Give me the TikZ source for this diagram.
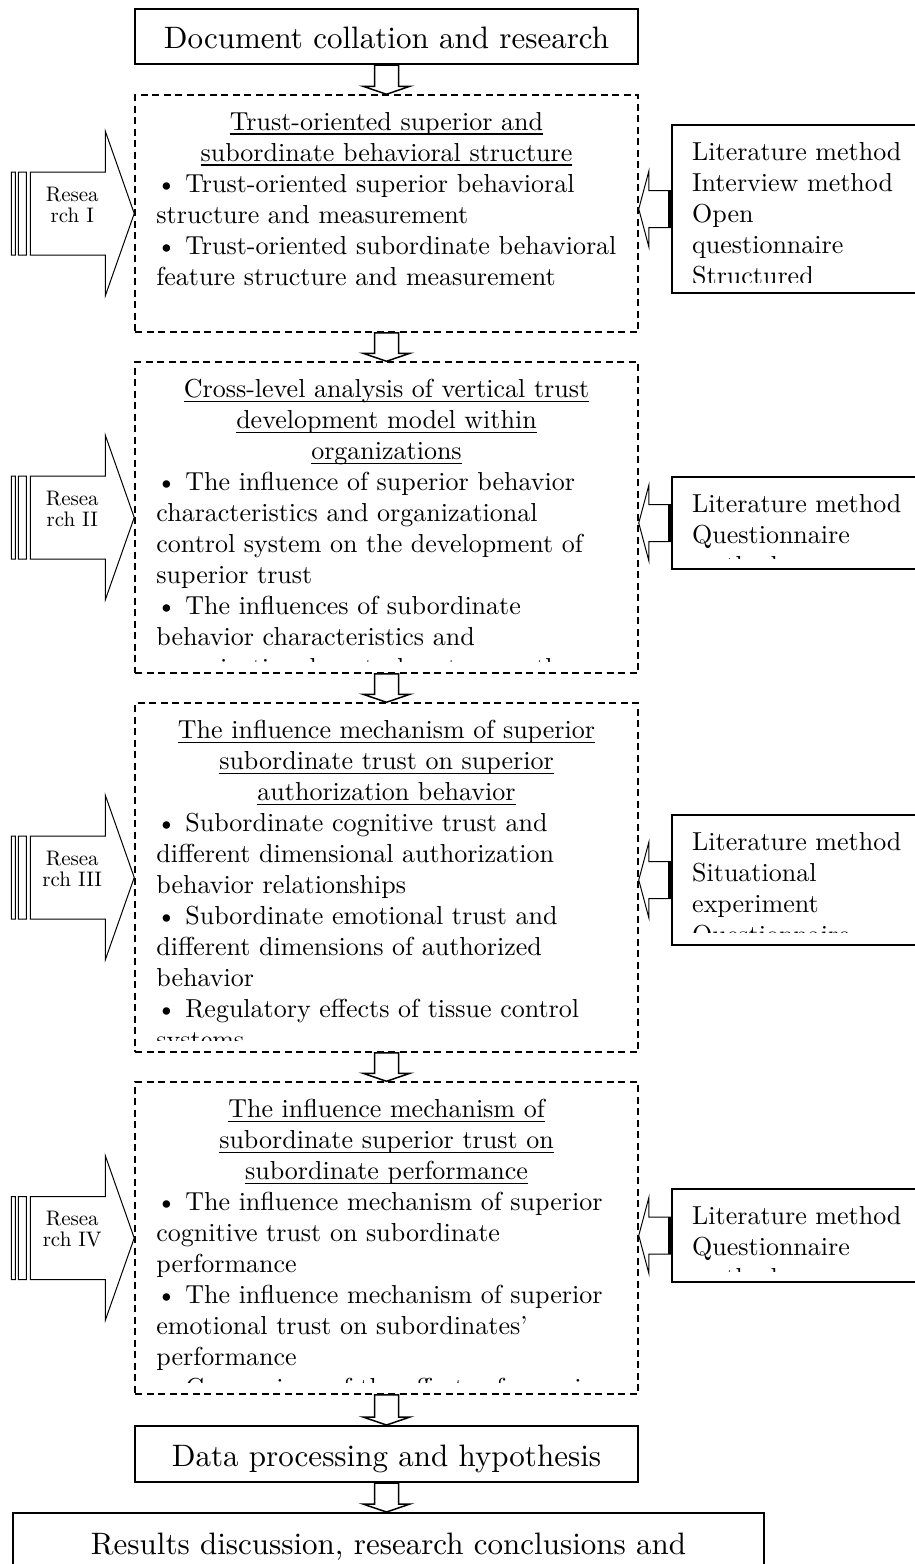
\documentclass[tikz,border=0pt]{standalone}
\usepackage{fontspec}
\setmainfont{lmroman10-regular.otf}
\usetikzlibrary{calc}

\newcommand{\bodyfont}{\fontsize{26}{31}\selectfont}
\newcommand{\bigfont}{\fontsize{31}{37}\selectfont}
\newcommand{\smallfont}{\fontsize{21}{21}\selectfont}
\newsavebox{\linebox}
\newcommand{\uln}[1]{\sbox{\linebox}{#1}\rlap{\rule[-4.5pt]{\wd\linebox}{1.5pt}}\usebox{\linebox}}

\tikzset{
  solidbox/.style={draw, line width=2pt, inner sep=0pt, font=\bigfont, text height=24pt, text depth=0pt},
  studybox/.style={draw, line width=1.5pt, dash pattern=on 7pt off 4.5pt, minimum width=503pt},
  methodbox/.style={draw, line width=2pt, minimum width=260pt},
  headtext/.style={inner sep=0pt, align=center, font=\bodyfont},
  bodytext/.style={inner sep=0pt, align=left, font=\bodyfont},
  restext/.style={inner sep=0pt, align=center, font=\smallfont},
  blockline/.style={line width=1pt},
  flowline/.style={line width=1.5pt, fill=white},
}

\begin{document}
\begin{tikzpicture}[x=1pt, y=-1pt]
\useasboundingbox (0,0) rectangle (915,1564);
\clip (0,0) rectangle (915,1564);

% main column
\node[solidbox, minimum width=503pt, minimum height=55pt] (doc) at (386.5,36.5) {Document collation and research};
\node[studybox, minimum height=237pt] (s1) at (386.5,213.5) {};
\node[studybox, minimum height=311pt] (s2) at (386.5,517.5) {};
\node[studybox, minimum height=349pt] (s3) at (386.5,877.5) {};
\node[studybox, minimum height=312pt] (s4) at (386.5,1238) {};
\node[solidbox, minimum width=503pt, minimum height=56pt] (data) at (386.5,1454) {Data processing and hypothesis};
\node[solidbox, anchor=north, minimum width=751pt, inner ysep=17pt, text depth=60pt] (res) at (388.5,1512) {Results discussion, research conclusions and};

% method boxes
\node[methodbox, minimum height=168pt] (m1) at (802,209) {};
\node[methodbox, minimum height=92pt] (m2) at (802,523) {};
\node[methodbox, minimum height=130pt] (m3) at (802,880) {};
\node[methodbox, minimum height=93pt] (m4) at (802,1235.5) {};

% study texts
\node[headtext, anchor=north] (s1h) at ([yshift=-18pt]s1.north) {\uln{Trust-oriented superior and}\\\uln{subordinate behavioral structure}};
\node[bodytext, anchor=north west] (s1b) at ([xshift=22pt,yshift=-80pt]s1.north west) {\textbullet\ Trust-oriented superior behavioral\\structure and measurement\\\textbullet\ Trust-oriented subordinate behavioral\\feature structure and measurement};

\begin{scope}
\clip (s2.north west) rectangle ([yshift=12pt]s2.south east);
\node[headtext, anchor=north] (s2h) at ([yshift=-18pt]s2.north) {\uln{Cross-level analysis of vertical trust}\\\uln{development model within}\\\uln{organizations}};
\node[bodytext, anchor=north west] (s2b) at ([xshift=22pt,yshift=-111pt]s2.north west) {\textbullet\ The influence of superior behavior\\characteristics and organizational\\control system on the development of\\superior trust\\\textbullet\ The influences of subordinate\\behavior characteristics and\\organizational control system on the};
\end{scope}

\begin{scope}
\clip (s3.north west) rectangle ([yshift=12pt]s3.south east);
\node[headtext, anchor=north] (s3h) at ([yshift=-18pt]s3.north) {\uln{The influence mechanism of superior}\\\uln{subordinate trust on superior}\\\uln{authorization behavior}};
\node[bodytext, anchor=north west] (s3b) at ([xshift=22pt,yshift=-111pt]s3.north west) {\textbullet\ Subordinate cognitive trust and\\different dimensional authorization\\behavior relationships\\\textbullet\ Subordinate emotional trust and\\different dimensions of authorized\\behavior\\\textbullet\ Regulatory effects of tissue control\\systems};
\end{scope}

\begin{scope}
\clip (s4.north west) rectangle ([yshift=12pt]s4.south east);
\node[headtext, anchor=north] (s4h) at ([yshift=-18pt]s4.north) {\uln{The influence mechanism of}\\\uln{subordinate superior trust on}\\\uln{subordinate performance}};
\node[bodytext, anchor=north west] (s4b) at ([xshift=22pt,yshift=-111pt]s4.north west) {\textbullet\ The influence mechanism of superior\\cognitive trust on subordinate\\performance\\\textbullet\ The influence mechanism of superior\\emotional trust on subordinates'\\performance\\\textbullet\ Comparison of the effects of superior};
\end{scope}

% method texts
\begin{scope}
\clip (m1.north west) rectangle ([yshift=12pt]m1.south east);
\node[bodytext, anchor=north west] (m1t) at ([xshift=21pt,yshift=-18pt]m1.north west) {Literature method\\Interview method\\Open\\questionnaire\\Structured};
\end{scope}
\begin{scope}
\clip (m2.north west) rectangle ([yshift=12pt]m2.south east);
\node[bodytext, anchor=north west] (m2t) at ([xshift=21pt,yshift=-18pt]m2.north west) {Literature method\\Questionnaire\\method};
\end{scope}
\begin{scope}
\clip (m3.north west) rectangle ([yshift=14pt]m3.south east);
\node[bodytext, anchor=north west] (m3t) at ([xshift=21pt,yshift=-18pt]m3.north west) {Literature method\\Situational\\experiment\\Questionnaire};
\end{scope}
\begin{scope}
\clip (m4.north west) rectangle ([yshift=12pt]m4.south east);
\node[bodytext, anchor=north west] (m4t) at ([xshift=21pt,yshift=-18pt]m4.north west) {Literature method\\Questionnaire\\method};
\end{scope}

% down arrows
\foreach \a/\b in {doc/s1, s1/s2, s2/s3, s3/s4, s4/data, data/res}{
  \draw[flowline] let \p1=(\a.south), \p2=(\b.north) in
    (\x1-12pt,\y1) -- (\x1-12pt,\y2+8pt) -- (\x1-23.5pt,\y2+8pt) -- (\x1,\y2)
    -- (\x1+23.5pt,\y2+8pt) -- (\x1+12pt,\y2+8pt) -- (\x1+12pt,\y1) -- cycle;
}

% research arrows
\foreach \s/\n in {s1/I, s2/II, s3/III, s4/IV}{
  \draw[blockline] let \p1=(\s.west) in
    (\x1,\y1) -- (\x1-29pt,\y1+82.5pt) -- (\x1-29pt,\y1+41.5pt) -- (\x1-104pt,\y1+41.5pt)
    -- (\x1-104pt,\y1-41.5pt) -- (\x1-29pt,\y1-41.5pt) -- (\x1-29pt,\y1-82.5pt) -- cycle
    (\x1-123pt,\y1+41.5pt) rectangle (\x1-119pt,\y1-41.5pt)
    (\x1-116pt,\y1+41.5pt) rectangle (\x1-108pt,\y1-41.5pt);
  \node[restext] (r\s) at ([xshift=-62pt,yshift=8.5pt]\s.west) {Resea\\rch \n};
}

% method arrows
\foreach \m/\s in {m1/s1, m2/s2, m3/s3, m4/s4}{
  \draw[blockline, fill=white] let \p1=(\s.east), \p2=(\m.west) in
    (\x1,\y2) -- (\x1+10pt,\y2+37.5pt) -- (\x1+10pt,\y2+18.5pt) -- (\x2,\y2+18.5pt)
    -- (\x2,\y2-18.5pt) -- (\x1+10pt,\y2-18.5pt) -- (\x1+10pt,\y2-37.5pt) -- cycle;
  \draw[line width=4pt] let \p2=(\m.west) in
    (\x2-1pt,\y2+18.5pt) -- (\x2-1pt,\y2-18.5pt);
}
\end{tikzpicture}
\end{document}
